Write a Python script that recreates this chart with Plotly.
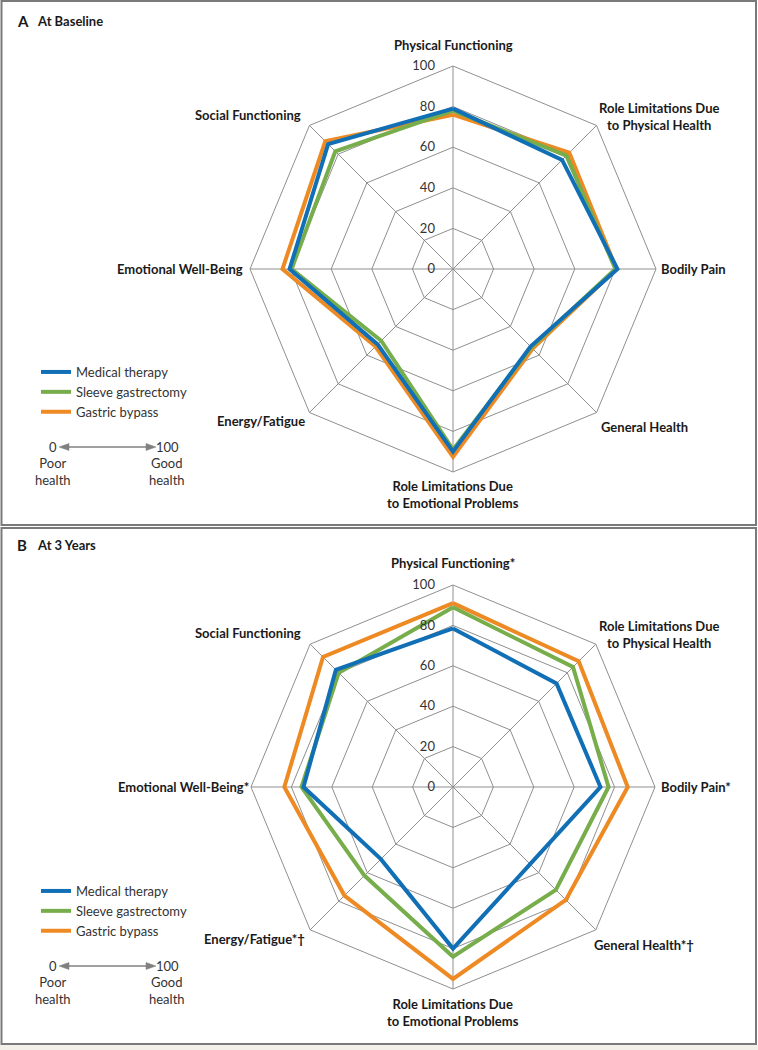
import plotly.graph_objects as go

# ---------------- data ----------------
categories = [
    "Physical Functioning",
    "Role Limitations Due to Physical Health",
    "Bodily Pain",
    "General Health",
    "Role Limitations Due to Emotional Problems",
    "Energy/Fatigue",
    "Emotional Well-Being",
    "Social Functioning",
]
series_names = ["Medical therapy", "Sleeve gastrectomy", "Gastric bypass"]

baseline_medical = [79, 76, 81, 54, 90, 52.5, 80.5, 87]
baseline_sleeve = [78, 79, 80, 54.5, 89, 50, 79.5, 82]
baseline_bypass = [76, 81, 80.5, 55.5, 92.5, 54, 84, 89]

year3_medical = [78.5, 72.5, 73, 54, 80, 50.5, 74, 82]
year3_sleeve = [89, 84, 77, 72, 84, 62, 75, 80]
year3_bypass = [91, 88, 86.5, 79, 95, 76, 83.5, 91]

radial_ticks = [0, 20, 40, 60, 80, 100]
year3_marks = ["*", "", "*", "*†", "", "*†", "*", ""]

# ---------------- styling ----------------
W, H = 758, 1050
COLORS = {"Medical therapy": "#1170b5", "Sleeve gastrectomy": "#77ad4a", "Gastric bypass": "#ee8a24"}
GRID = "#8f8f8f"
TXT = "#1a1a1a"
FONT = "Lato"


def px(x):
    return x / W


def py(y):
    return 1 - y / H


fig = go.Figure()

panels = [
    ("polar", "legend", [baseline_medical, baseline_sleeve, baseline_bypass]),
    ("polar2", "legend2", [year3_medical, year3_sleeve, year3_bypass]),
]
for polar_id, legend_id, vals in panels:
    # draw bypass first, medical last (on top)
    for name, v in reversed(list(zip(series_names, vals))):
        fig.add_trace(go.Scatterpolar(
            r=v + v[:1], theta=categories + categories[:1],
            mode="lines", name=name, subplot=polar_id, legend=legend_id,
            line=dict(color=COLORS[name], width=4), hoverinfo="skip",
        ))


def polar_layout(cx, cy, R):
    return dict(
        domain=dict(x=[px(cx - R), px(cx + R)], y=[py(cy + R), py(cy - R)]),
        bgcolor="white",
        gridshape="linear",
        radialaxis=dict(
            range=[0, 100], tickvals=radial_ticks, angle=90, side="counterclockwise",
            showline=False, gridcolor=GRID, gridwidth=1,
            ticks="outside", ticklen=13, tickcolor="rgba(0,0,0,0)",
            tickfont=dict(family=FONT, size=13, color="#333333"),
            tickangle=90,
        ),
        angularaxis=dict(
            direction="clockwise", rotation=90, showticklabels=False, ticks="",
            gridcolor=GRID, gridwidth=1, showline=True, linecolor=GRID, linewidth=1,
        ),
    )


legend_common = dict(
    xanchor="left", yanchor="top", bgcolor="rgba(0,0,0,0)", traceorder="reversed",
    font=dict(family=FONT, size=13, color="#333333"), itemwidth=30, tracegroupgap=0,
)

annotations = []


def ann(text, x, y, xanchor="center", size=13, bold=True, color=TXT):
    annotations.append(dict(
        text=f"<b>{text}</b>" if bold else text, x=px(x), y=py(y), xref="paper", yref="paper",
        xanchor=xanchor, yanchor="middle", showarrow=False, align="center",
        font=dict(family=FONT, size=size, color=color),
    ))


# label placements: x, dy from panel centre, anchor
label_pos = [
    (453, -224, "center"),
    (659, -153, "center"),
    (659, 0, "left"),
    (644, 158, "center"),
    (453, 225, "center"),
    (307, 152, "right"),
    (245, 0, "right"),
    (303, -154, "right"),
]
wrap = {
    "Role Limitations Due to Physical Health": "Role Limitations Due<br>to Physical Health",
    "Role Limitations Due to Emotional Problems": "Role Limitations Due<br>to Emotional Problems",
}

panel_centers = [(453, 269, 203), (453, 787, 202)]
for pi, (cx, cy, R) in enumerate(panel_centers):
    for ci, cat in enumerate(categories):
        lx, dy, anc = label_pos[ci]
        label = wrap.get(cat, cat)
        if pi == 1 and year3_marks[ci]:
            label = label + year3_marks[ci]
        if pi == 1 and cat == "Emotional Well-Being":
            lx = 251
        ann(label, lx, cy + dy, anc)

# panel titles
ann("A", 15, 21, "left", size=15)
ann("At Baseline", 35, 21, "left", size=13)
ann("B", 15, 545, "left", size=15)
ann("At 3 Years", 35, 545, "left", size=13)

# poor/good health scales
shapes = []
AC = "#808080"
for ay in (447, 966):
    ann("0", 53, ay, "center", size=13, bold=False, color="#333333")
    ann("100", 167, ay, "center", size=13, bold=False, color="#333333")
    ann("Poor<br>health", 53, ay + 24, "center", size=13, bold=False, color="#333333")
    ann("Good<br>health", 167, ay + 24, "center", size=13, bold=False, color="#333333")
    shapes.append(dict(type="line", xref="paper", yref="paper", x0=px(64), x1=px(151),
                       y0=py(ay), y1=py(ay), line=dict(color=AC, width=1.5)))
    for tip, back in ((59, 69), (156, 146)):
        path = (f"M{px(tip)},{py(ay)} L{px(back)},{py(ay - 3.5)} "
                f"L{px(back)},{py(ay + 3.5)} Z")
        shapes.append(dict(type="path", xref="paper", yref="paper", path=path,
                           fillcolor=AC, line=dict(color=AC, width=0.5)))

# panel frames
shapes.append(dict(type="rect", xref="paper", yref="paper", x0=px(0), x1=px(W), y0=py(H), y1=py(1045),
                   fillcolor="#f3f0ea", line=dict(width=0), layer="below"))
for y0, y1 in ((1, 525), (528, 1044)):
    shapes.append(dict(type="rect", xref="paper", yref="paper", x0=px(1.5), x1=px(756), y0=py(y1), y1=py(y0),
                       line=dict(color="#7a7a7a", width=2), fillcolor="rgba(0,0,0,0)"))

fig.update_layout(
    width=W, height=H, margin=dict(l=0, r=0, t=0, b=0),
    paper_bgcolor="white", plot_bgcolor="white",
    polar=polar_layout(*panel_centers[0]),
    polar2=polar_layout(*panel_centers[1]),
    legend=dict(x=px(36), y=py(357), **legend_common),
    legend2=dict(x=px(36), y=py(876), **legend_common),
    showlegend=True,
    annotations=annotations,
    shapes=shapes,
)

fig.write_html("out.html", config={"displayModeBar": False},
               post_script="document.body.style.margin='0';document.body.style.padding='0';")
